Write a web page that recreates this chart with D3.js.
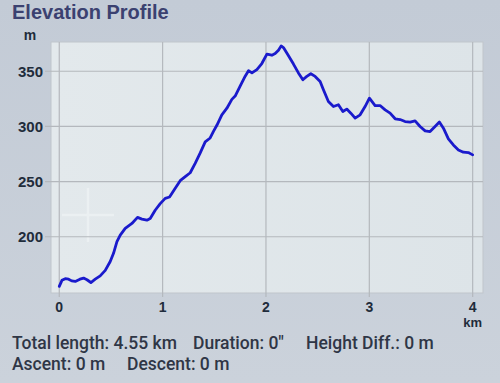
<!DOCTYPE html>
<html>
<head>
<meta charset="utf-8">
<script src="https://cdn.jsdelivr.net/npm/d3@7/dist/d3.min.js"></script>
<style>
html,body{margin:0;padding:0;}
body{width:500px;height:383px;overflow:hidden;}
</style>
</head>
<body>
<svg id="chart" width="500" height="383"></svg>
<script>
const distanceKm = [0,0.026,0.058,0.09,0.12,0.155,0.2,0.235,0.268,0.306,0.348,0.396,0.445,0.493,0.525,0.558,0.59,0.638,0.703,0.757,0.8,0.848,0.88,0.928,0.977,1.025,1.067,1.122,1.17,1.219,1.267,1.315,1.364,1.412,1.46,1.492,1.525,1.573,1.622,1.67,1.702,1.75,1.799,1.831,1.864,1.912,1.96,2.009,2.057,2.089,2.121,2.147,2.169,2.218,2.266,2.314,2.357,2.395,2.434,2.476,2.524,2.556,2.604,2.653,2.701,2.744,2.782,2.821,2.863,2.911,2.959,3.001,3.056,3.104,3.153,3.201,3.25,3.298,3.346,3.395,3.443,3.491,3.54,3.588,3.636,3.678,3.717,3.765,3.813,3.862,3.91,3.958,4.0];
const elevationM = [155,160.5,162,161.5,160,159.5,161.5,162.5,161,158.5,161.5,164.5,169.5,177.5,185,195.5,201.5,207.5,212,217.5,216,215,216.5,224,230,234.8,236,244,250.8,254.5,258,266.5,276,286,289.5,295.5,301,310.5,316.5,324.5,327.5,336.5,345.5,350.5,348.5,351.5,357,365.5,364.5,366,369,373,371.5,364,356.5,348.5,342.3,345.3,347.7,345.3,340.7,333.2,322.6,318,319.6,313.5,315.7,312,307.5,310.5,318,325.6,318.9,318.9,315,312,306.9,306.2,304.4,303.9,305,299.9,296,295.3,299.9,303.9,298.4,288.7,283.2,278.7,276.6,276.3,274.2];
const xTicks = [0,1,2,3,4];
const yTicks = [200,250,300,350];
const titleText = "Elevation Profile";
const yUnit = "m";
const xUnit = "km";
const statsLine1 = ["Total length: 4.55 km", "Duration: 0\"", "Height Diff.: 0 m"];
const statsLine2 = ["Ascent: 0 m", "Descent: 0 m"];

const svg = d3.select("#chart");
const W = 500, H = 383;
const plot = {left: 51, right: 483, top: 42, bottom: 293};

const defs = svg.append("defs");
const bg = defs.append("linearGradient").attr("id","bg").attr("x1",0).attr("y1",0).attr("x2",0).attr("y2",1);
bg.append("stop").attr("offset","0%").attr("stop-color","#c3cbd6");
bg.append("stop").attr("offset","100%").attr("stop-color","#cbd2db");
const pg = defs.append("linearGradient").attr("id","pg").attr("x1",0).attr("y1",0).attr("x2",1).attr("y2",0);
pg.append("stop").attr("offset","0%").attr("stop-color","#e3e9ec");
pg.append("stop").attr("offset","100%").attr("stop-color","#dde4e8");

svg.append("rect").attr("width",W).attr("height",H).attr("fill","url(#bg)");

const x = d3.scaleLinear().domain([-0.08, 4.1]).range([plot.left, plot.right]);
const y = d3.scaleLinear().domain([149, 376.5]).range([plot.bottom, plot.top]);

svg.append("rect")
  .attr("x",plot.left).attr("y",plot.top)
  .attr("width",plot.right-plot.left).attr("height",plot.bottom-plot.top)
  .attr("fill","url(#pg)").attr("stroke","#c0c5cb").attr("stroke-width",1);

// faint watermark cross
const wm = svg.append("g").attr("stroke","#eef2f4").attr("stroke-width",2.5).attr("opacity",0.8);
wm.append("line").attr("x1",88).attr("x2",88).attr("y1",188).attr("y2",242);
wm.append("line").attr("x1",62).attr("x2",114).attr("y1",215).attr("y2",215);

const gridColor = "#b4b8bd";
svg.append("g").selectAll("line").data(yTicks).join("line")
  .attr("x1",plot.left-6).attr("x2",plot.right)
  .attr("y1",d=>y(d)).attr("y2",d=>y(d))
  .attr("stroke",gridColor).attr("stroke-width",1.2);
svg.append("g").selectAll("line").data(xTicks).join("line")
  .attr("y1",plot.top).attr("y2",plot.bottom+4)
  .attr("x1",d=>x(d)).attr("x2",d=>x(d))
  .attr("stroke",gridColor).attr("stroke-width",1.2);

const tickFont = "'Liberation Sans', Arial, sans-serif";
svg.append("g").selectAll("text").data(yTicks).join("text")
  .attr("x",43).attr("y",d=>y(d)+5.5)
  .attr("text-anchor","end")
  .attr("font-family",tickFont).attr("font-weight","bold").attr("font-size",15)
  .attr("fill","#1f2c3b").text(d=>d);

svg.append("g").selectAll("text").data(xTicks).join("text")
  .attr("x",d=>x(d)).attr("y",312)
  .attr("text-anchor","middle")
  .attr("font-family",tickFont).attr("font-weight","bold").attr("font-size",14)
  .attr("fill","#1f2c3b").text(d=>d);

svg.append("text").attr("x",30).attr("y",40).attr("text-anchor","middle")
  .attr("font-family",tickFont).attr("font-weight","bold").attr("font-size",14)
  .attr("fill","#1f2c3b").text(yUnit);
svg.append("text").attr("x",x(4)).attr("y",327).attr("text-anchor","middle")
  .attr("font-family",tickFont).attr("font-weight","bold").attr("font-size",13)
  .attr("fill","#1f2c3b").text(xUnit);

svg.append("text").attr("x",12).attr("y",19)
  .attr("font-family",tickFont).attr("font-weight","bold").attr("font-size",20)
  .attr("fill","#3b4170").text(titleText);

const pts = distanceKm.map((d,i)=>[d, elevationM[i]]);
const line = d3.line().x(d=>x(d[0])).y(d=>y(d[1])).curve(d3.curveLinear);
svg.append("path").datum(pts).attr("d",line)
  .attr("fill","none").attr("stroke","#1a1acc").attr("stroke-width",2.8)
  .attr("stroke-linejoin","round").attr("stroke-linecap","round");

const statFont = "Roboto, 'Liberation Sans', sans-serif";
const s1x = [12,193,306];
svg.append("g").selectAll("text").data(statsLine1).join("text")
  .attr("x",(d,i)=>s1x[i]).attr("y",349)
  .attr("font-family",statFont).attr("font-weight",500).attr("font-size",17.5)
  .attr("fill","#2f3646").text(d=>d);
const s2x = [12,127];
svg.append("g").selectAll("text").data(statsLine2).join("text")
  .attr("x",(d,i)=>s2x[i]).attr("y",370)
  .attr("font-family",statFont).attr("font-weight",500).attr("font-size",17.5)
  .attr("fill","#2f3646").text(d=>d);
</script>
</body>
</html>
